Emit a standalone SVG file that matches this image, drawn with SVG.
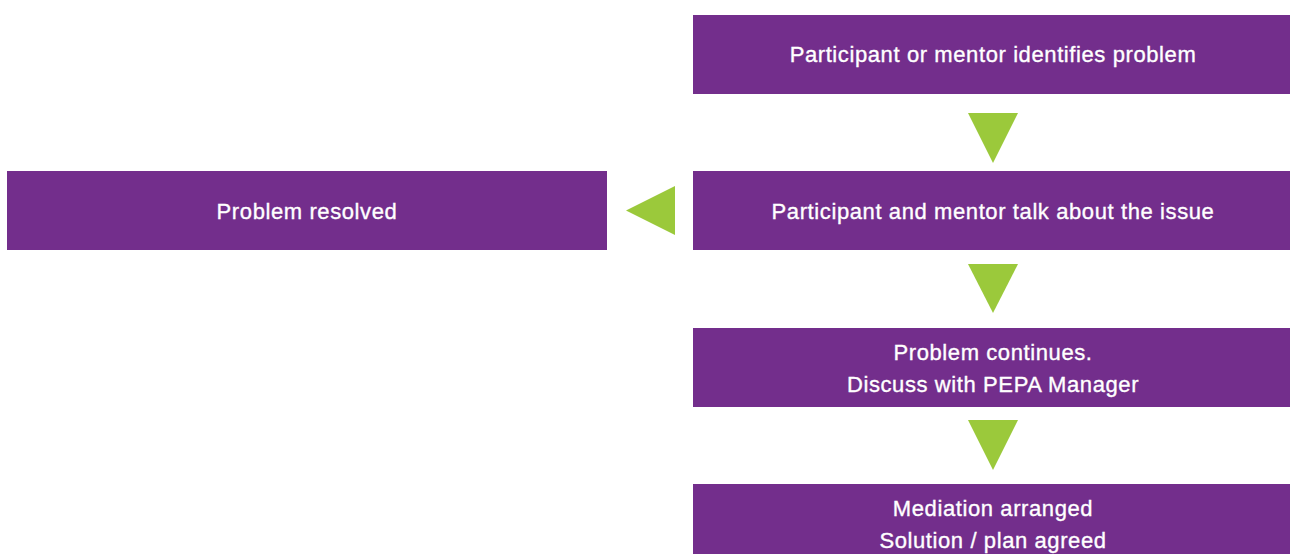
<svg xmlns="http://www.w3.org/2000/svg" width="1290" height="554" viewBox="0 0 1290 554">
<style>
.box{fill:#732e8c}
.lbl{font-family:"Liberation Sans",Arial,sans-serif;font-size:22px;letter-spacing:0.6px;fill:#ffffff;stroke:#ffffff;stroke-width:0.35px;text-anchor:middle}
.arr{fill:#9bc93b}
</style>
<rect width="1290" height="554" fill="#ffffff"/>
<g id="connectors">
<polygon class="arr" points="968,113 1018,113 993,163"/>
<polygon class="arr" points="675,186 675,235 626,210.5"/>
<polygon class="arr" points="968,264 1018,264 993,313"/>
<polygon class="arr" points="968,420 1018,420 993,470"/>
</g>
<g id="n1">
<rect class="box" x="693" y="15" width="597" height="79"/>
<text class="lbl" x="993" y="62">Participant or mentor identifies problem</text>
</g>
<g id="n2">
<rect class="box" x="693" y="171" width="597" height="79"/>
<text class="lbl" x="993" y="219">Participant and mentor talk about the issue</text>
</g>
<g id="n3">
<rect class="box" x="7" y="171" width="600" height="79"/>
<text class="lbl" x="307" y="219">Problem resolved</text>
</g>
<g id="n4">
<rect class="box" x="693" y="328" width="597" height="79"/>
<text class="lbl" x="993" y="360">Problem continues.</text>
<text class="lbl" x="993" y="392">Discuss with PEPA Manager</text>
</g>
<g id="n5">
<rect class="box" x="693" y="484" width="597" height="70"/>
<text class="lbl" x="993" y="516">Mediation arranged</text>
<text class="lbl" x="993" y="548">Solution / plan agreed</text>
</g>
</svg>
